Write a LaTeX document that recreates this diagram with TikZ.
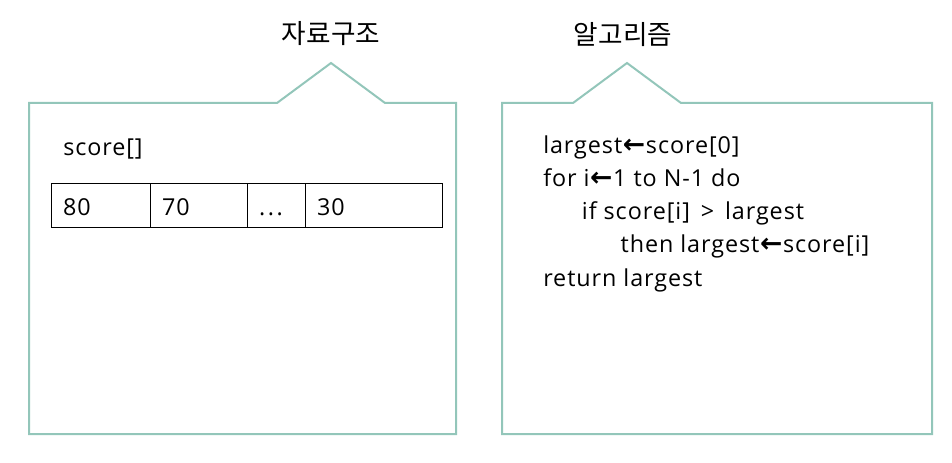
\documentclass[tikz,border=0pt]{standalone}
\usepackage{fontspec}
\setmainfont{Open Sans}[LetterSpace=4]
\newfontfamily\krfont{Noto Sans CJK KR}
\newfontfamily\arrowfont{DejaVu Sans Bold}
\usetikzlibrary{positioning}
\definecolor{bubble}{HTML}{93C6BA}
\newcommand{\getsarrow}{\kern0.5pt{\arrowfont\fontsize{20pt}{20pt}\selectfont ←}\kern0.5pt}

\begin{document}
\begin{tikzpicture}[x=0.75pt, y=-0.75pt,
  bubbleline/.style={draw=bubble, line width=1.5pt, line join=miter},
  title/.style={font=\krfont\fontsize{20pt}{22pt}\selectfont},
  txt/.style={font=\fontsize{17.5pt}{24.8pt}\selectfont, inner sep=0pt, anchor=base west},
  cell/.style={draw, line width=0.75pt, outer sep=0pt, inner xsep=9pt, inner ysep=0pt,
    text height=15pt, text depth=1pt, minimum height=33pt, align=left,
    font=\fontsize{17.5pt}{20pt}\selectfont}]
\useasboundingbox (0,0) rectangle (952,463);

% left bubble: data structure
\draw[bubbleline] (29,103) -- (277,103) -- (331,63) -- (385,103) -- (456,103)
  -- (456,434) -- (29,434) -- cycle;
\node[title] (ds) at (331,34) {자료구조};
\node[txt] (arr) at (63,156) {score[]};
\node[cell, anchor=west, text width=56.25pt] (c1) at (51,206) {80};
\node[cell, right=0pt of c1, text width=54.75pt] (c2) {70};
\node[cell, right=0pt of c2, text width=25.5pt] (c3) {.\kern2pt.\kern2pt.};
\node[cell, right=0pt of c3, text width=84.75pt] (c4) {30};

% right bubble: algorithm
\draw[bubbleline] (502,103) -- (573,103) -- (627,63) -- (681,103) -- (932,103)
  -- (932,434) -- (502,434) -- cycle;
\node[title] (algo) at (623,35) {알고리즘};
\node[txt, align=left] (code) at (543,286) {%
largest\getsarrow score[0]\\
for i\getsarrow 1 to N-1 do\\
\hspace*{29pt}if score[i] \,>\, largest\\
\hspace*{58pt}then largest\getsarrow score[i]\\
return largest};
\end{tikzpicture}
\end{document}
